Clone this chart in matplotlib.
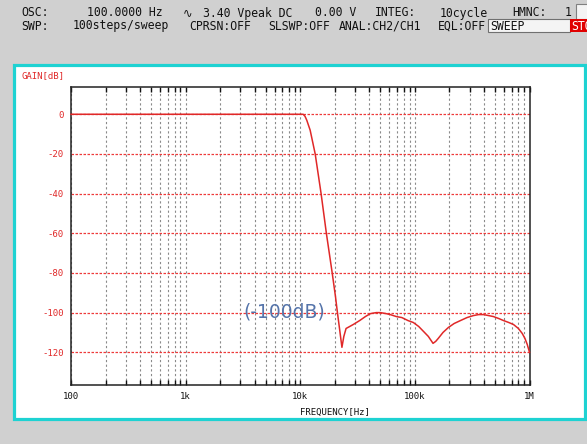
import matplotlib
matplotlib.use("Agg")
import matplotlib.pyplot as plt
from matplotlib.patches import Rectangle
from matplotlib.ticker import FixedLocator, NullFormatter

W, H = 587, 444

# Frequency response readout (gain vs frequency)
freq_hz = [100, 1000, 10000, 10600, 11000, 11400, 12200, 13500, 15200, 16900,
           19000, 20300, 21000, 22000, 23100, 24000, 25100, 27000, 29000, 33000,
           37000, 41000, 46000, 50000, 56000, 61000, 69000, 77000, 87000, 97000,
           108000, 119000, 131000, 144000, 152000, 160000, 176000, 196000, 220000,
           250000, 285000, 324000, 360000, 397000, 440000, 485000, 540000, 593000,
           660000, 725000, 800000, 864000, 912000, 955000, 1000000]
gain_db = [0, 0, 0, 0, -1, -3, -8, -20, -40, -60,
           -80, -92, -99, -108, -117.5, -112, -108, -107, -106, -104,
           -102, -100.5, -100, -100, -100.5, -101, -102, -102.5, -104, -105,
           -107, -109.5, -112, -115.5, -114.5, -113, -110, -107.5, -105.5,
           -104, -102.5, -101.5, -101, -101, -101.5, -102, -103, -104,
           -105, -106, -108, -110.5, -113, -116, -120]

x_ticks = [100, 1e3, 1e4, 1e5, 1e6]
x_tick_labels = ["100", "1k", "10k", "100k", "1M"]
y_ticks = [0, -20, -40, -60, -80, -100, -120]
y_tick_labels = ["0", "-20", "-40", "-60", "-80", "-100", "-120"]

header_line1 = [(21, "OSC:"), (87, "100.0000 Hz"), (183, "\u223f"), (203, "3.40 Vpeak DC"),
                (315, "0.00 V"), (375, "INTEG:"), (440, "10cycle"),
                (512, "HMNC:"), (565, "1")]
header_line2 = [(21, "SWP:"), (73, "100steps/sweep"), (189, "CPRSN:OFF"),
                (268, "SLSWP:OFF"), (339, "ANAL:CH2/CH1"), (438, "EQL:OFF")]

BG = "#d0d0d0"
RED = "#e02828"
MONO = "DejaVu Sans Mono"
HEADER_FAMILY = [MONO, "DejaVu Sans", "Noto Sans CJK JP", "Noto Sans"]
HFS = 8.3
LINE1_BASE, LINE2_BASE = 16.5, 29.5


def fx(x):
    return x / W


def fy(y):
    return 1 - y / H


fig = plt.figure(figsize=(W / 100, H / 100), dpi=100, facecolor=BG)

# Status header
for x, s in header_line1:
    fig.text(fx(x), fy(LINE1_BASE), s, fontsize=HFS, family=HEADER_FAMILY, va="baseline",
             ha="left", color="#111111")
for x, s in header_line2:
    fig.text(fx(x), fy(LINE2_BASE), s, fontsize=HFS, family=HEADER_FAMILY, va="baseline",
             ha="left", color="#111111")

fig.patches.append(Rectangle((fx(576), fy(19)), fx(13), 15 / H, transform=fig.transFigure,
                             facecolor="#f4f4f4", edgecolor="#808080", lw=0.8))
fig.patches.append(Rectangle((fx(488), fy(32)), fx(82), 12.5 / H, transform=fig.transFigure,
                             facecolor="#f4f4f4", edgecolor="#707070", lw=0.8))
fig.text(fx(490), fy(LINE2_BASE), "SWEEP", fontsize=HFS, family=MONO, va="baseline",
         ha="left", color="#111111")
stop_box = Rectangle((fx(570), fy(32)), fx(17), 12.5 / H, transform=fig.transFigure,
                     facecolor="#e00000", edgecolor="none")
fig.patches.append(stop_box)
t = fig.text(fx(571), fy(LINE2_BASE), "STOP", fontsize=HFS, family=MONO, va="baseline",
             ha="left", color="white")
t.set_clip_path(stop_box)

# Plot panel with cyan frame
fig.patches.append(Rectangle((fx(14.5), fy(418.5)), fx(570), (418.5 - 64.5) / H,
                             transform=fig.transFigure, facecolor="white",
                             edgecolor="#1ed2d2", lw=2.3, zorder=0.5))

ax_l, ax_r, ax_t, ax_b = 71, 529.5, 87.3, 385
ax = fig.add_axes([fx(ax_l), fy(ax_b), (ax_r - ax_l) / W, (ax_b - ax_t) / H])
ax.set_zorder(2)
ax.set_facecolor("white")
ax.set_xscale("log")
ax.set_xlim(100, 1e6)
ax.set_ylim(-136.5, 13.6)

minor = [m * 10 ** d for d in range(2, 6) for m in range(2, 10)]
ax.xaxis.set_major_locator(FixedLocator(x_ticks))
ax.xaxis.set_minor_locator(FixedLocator(minor))
ax.xaxis.set_minor_formatter(NullFormatter())
ax.set_xticklabels(x_tick_labels, fontsize=6.5, family=MONO, color="#111111")
ax.set_yticks(y_ticks)
ax.set_yticklabels(y_tick_labels, fontsize=6.5, family=MONO, color=RED)

ax.tick_params(axis="x", which="both", direction="in", length=3.8, width=1.0,
               color="#111111", top=True, bottom=True, pad=5)
ax.tick_params(axis="y", which="both", length=0, pad=5)

ax.grid(True, axis="x", which="both", color="#8a8a8a", lw=0.8, ls=(0, (2, 2.2)))
ax.grid(True, axis="y", which="major", color="#ee3a3a", lw=0.9, ls=(0, (2, 1.2)))
ax.set_axisbelow(True)

for sp in ax.spines.values():
    sp.set_color("#222222")
    sp.set_linewidth(1.1)

ax.plot(freq_hz, gain_db, color=RED, lw=1.1, clip_on=False, zorder=3)

ax.text(7.2e3, -99.5, "(-100dB)", fontsize=13.5, color="#5574aa",
        ha="center", va="center", zorder=4)

fig.text(fx(21), fy(76), "GAIN[dB]", fontsize=6.5, family=MONO, color=RED, va="center",
         ha="left", zorder=3)
fig.text(fx(335), fy(412), "FREQUENCY[Hz]", fontsize=6.5, family=MONO, color="#111111",
         va="center", ha="center", zorder=3)

fig.savefig("out.png", dpi=100, facecolor=BG)
